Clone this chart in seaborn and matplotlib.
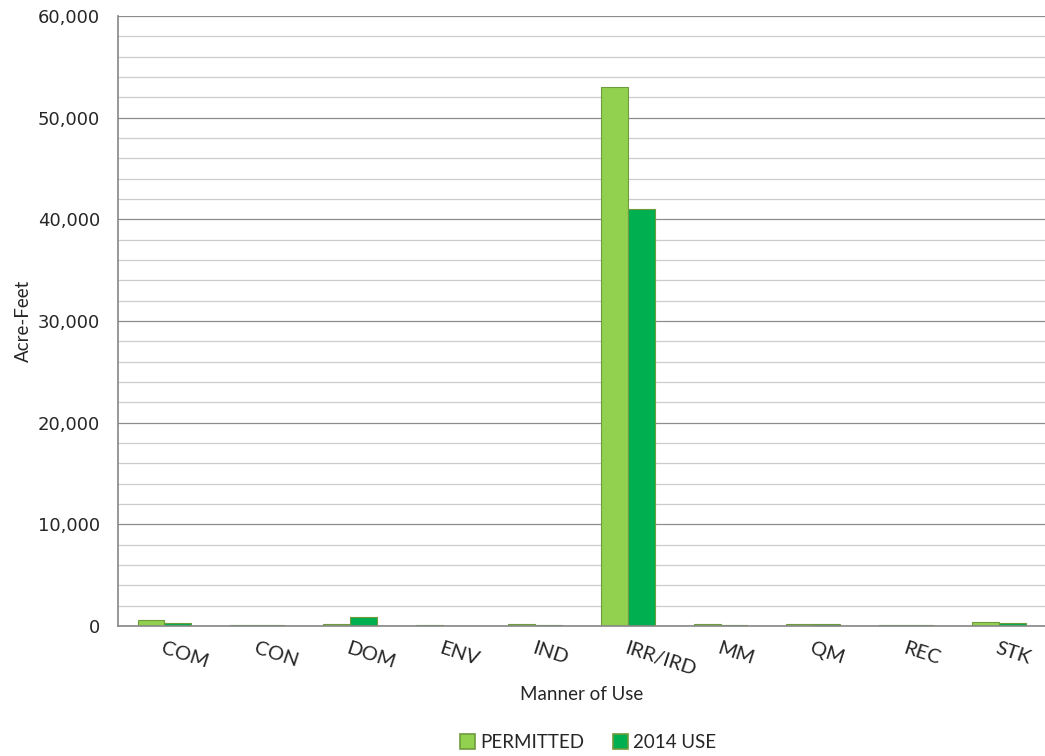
import numpy as np
import pandas as pd
import matplotlib
matplotlib.use("Agg")
import matplotlib.pyplot as plt
import seaborn as sns
from matplotlib.ticker import MultipleLocator, FuncFormatter

# values (acre-feet)
uses = ["COM", "CON", "DOM", "ENV", "IND", "IRR/IRD", "MM", "QM", "REC", "STK"]
permitted = [600, 120, 150, 100, 150, 53000, 220, 200, 130, 380]
use_2014 = [320, 120, 850, 10, 140, 41000, 130, 150, 120, 250]
series = ["PERMITTED", "2014 USE"]
colors = ["#92D050", "#00B050"]

df = pd.DataFrame({"use": uses * 2,
                   "series": [series[0]] * len(uses) + [series[1]] * len(uses),
                   "value": permitted + use_2014})

sns.set_style("white")
plt.rcParams["font.family"] = ["Lato", "DejaVu Sans"]

fig = plt.figure(figsize=(10.45, 7.56), dpi=100)
ax = fig.add_axes([0.113, 0.172, 0.887, 0.807])

sns.barplot(data=df, x="use", y="value", hue="series", palette=colors,
            width=0.58, ax=ax, edgecolor="#6E9B3C", linewidth=0.8,
            legend=True, saturation=1)

ax.set_ylim(0, 60000)
ax.set_xlim(-0.5, len(uses) - 0.5)
ax.yaxis.set_major_locator(MultipleLocator(10000))
ax.yaxis.set_minor_locator(MultipleLocator(2000))
ax.yaxis.set_major_formatter(FuncFormatter(lambda v, p: f"{int(v):,}"))
ax.grid(which="major", axis="y", color="#8c8c8c", linewidth=0.9)
ax.grid(which="minor", axis="y", color="#cccccc", linewidth=0.9)
ax.set_axisbelow(True)

for s in ["top", "right"]:
    ax.spines[s].set_visible(False)
for s in ["left", "bottom"]:
    ax.spines[s].set_color("#868686")
    ax.spines[s].set_linewidth(1.2)

ax.tick_params(axis="y", which="major", length=7, color="#868686", width=1,
               labelsize=13, pad=6)
ax.tick_params(axis="y", which="minor", length=0)
for t in ax.get_yticklabels():
    t.set_family("DejaVu Sans")
ax.tick_params(axis="x", length=0, labelsize=14.5, pad=10)
ax.set_xticks(range(len(uses)))
ax.set_xticklabels(uses, rotation=-18, ha="left", rotation_mode="anchor")

ax.set_ylabel("Acre-Feet", fontsize=13.5, labelpad=4)
ax.set_xlabel("Manner of Use", fontsize=13.5)
ax.xaxis.set_label_coords(0.5, -0.098)

ax.get_legend().remove()
handles = [plt.Rectangle((0, 0), 1, 1, facecolor=c, edgecolor="#6E9B3C", linewidth=1.2)
           for c in colors]
fig.legend(handles, series, loc="center", bbox_to_anchor=(0.563, 0.018), ncol=2,
           frameon=False, fontsize=13.5, handlelength=0.8, handleheight=0.8,
           handletextpad=0.3, columnspacing=1.5, borderaxespad=0, borderpad=0)

fig.savefig("out.png", dpi=100)
